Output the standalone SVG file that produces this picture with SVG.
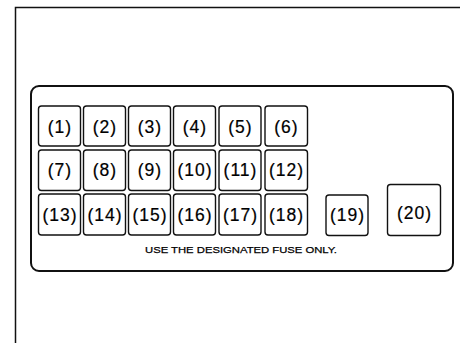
<svg xmlns="http://www.w3.org/2000/svg" width="460" height="343" viewBox="0 0 460 343">
<style>
.fuse rect{fill:#fff;stroke:#111;stroke-width:1.4}
.fuse text{font-family:"Liberation Sans",Arial,sans-serif;font-size:17.5px;letter-spacing:1px;fill:#000;stroke:#000;stroke-width:0.2;text-anchor:middle}
.note{font-family:"Liberation Sans",Arial,sans-serif;font-size:9.8px;fill:#000;stroke:#000;stroke-width:0.25}
</style>
<rect width="460" height="343" fill="#fff"/>
<g id="frame" fill="none" stroke="#111" stroke-width="1.5">
<path d="M15.5 343 V7.5 H460"/>
</g>
<g id="panel">
<rect x="31" y="86" width="422" height="185" rx="8" fill="none" stroke="#111" stroke-width="2"/>
<text class="note" x="145" y="253" textLength="192" lengthAdjust="spacingAndGlyphs">USE THE DESIGNATED FUSE ONLY.</text>
</g>
<g id="fuse1" class="fuse"><rect x="38.5" y="106" width="42" height="40" rx="3"/><text x="60" y="132.5">(1)</text></g>
<g id="fuse2" class="fuse"><rect x="83.5" y="106" width="42" height="40" rx="3"/><text x="105" y="132.5">(2)</text></g>
<g id="fuse3" class="fuse"><rect x="128.5" y="106" width="42" height="40" rx="3"/><text x="150" y="132.5">(3)</text></g>
<g id="fuse4" class="fuse"><rect x="173.5" y="106" width="42" height="40" rx="3"/><text x="195" y="132.5">(4)</text></g>
<g id="fuse5" class="fuse"><rect x="219" y="106" width="42" height="40" rx="3"/><text x="240.5" y="132.5">(5)</text></g>
<g id="fuse6" class="fuse"><rect x="265" y="106" width="42.5" height="40" rx="3"/><text x="286.5" y="132.5">(6)</text></g>
<g id="fuse7" class="fuse"><rect x="38.5" y="150" width="42" height="40.5" rx="3"/><text x="60" y="176">(7)</text></g>
<g id="fuse8" class="fuse"><rect x="83.5" y="150" width="42" height="40.5" rx="3"/><text x="105" y="176">(8)</text></g>
<g id="fuse9" class="fuse"><rect x="128.5" y="150" width="42" height="40.5" rx="3"/><text x="150" y="176">(9)</text></g>
<g id="fuse10" class="fuse"><rect x="173.5" y="150" width="42" height="40.5" rx="3"/><text x="195" y="176">(10)</text></g>
<g id="fuse11" class="fuse"><rect x="219" y="150" width="42" height="40.5" rx="3"/><text x="240.5" y="176">(11)</text></g>
<g id="fuse12" class="fuse"><rect x="265" y="150" width="42.5" height="40.5" rx="3"/><text x="286.5" y="176">(12)</text></g>
<g id="fuse13" class="fuse"><rect x="38.5" y="194" width="42" height="41" rx="3"/><text x="60" y="220.5">(13)</text></g>
<g id="fuse14" class="fuse"><rect x="83.5" y="194" width="42" height="41" rx="3"/><text x="105" y="220.5">(14)</text></g>
<g id="fuse15" class="fuse"><rect x="128.5" y="194" width="42" height="41" rx="3"/><text x="150" y="220.5">(15)</text></g>
<g id="fuse16" class="fuse"><rect x="173.5" y="194" width="42" height="41" rx="3"/><text x="195" y="220.5">(16)</text></g>
<g id="fuse17" class="fuse"><rect x="219" y="194" width="42" height="41" rx="3"/><text x="240.5" y="220.5">(17)</text></g>
<g id="fuse18" class="fuse"><rect x="265" y="194" width="42.5" height="41" rx="3"/><text x="286.5" y="220.5">(18)</text></g>
<g id="fuse19" class="fuse"><rect x="326" y="195" width="42" height="40.5" rx="3"/><text x="347.5" y="221">(19)</text></g>
<g id="fuse20" class="fuse"><rect x="387.5" y="184.5" width="53" height="51" rx="3"/><text x="414.5" y="218.5">(20)</text></g>
</svg>
